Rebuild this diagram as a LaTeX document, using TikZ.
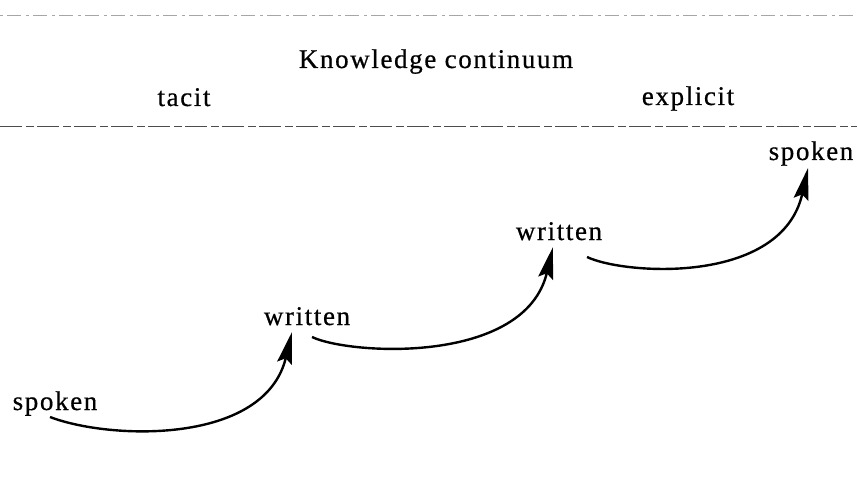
\documentclass[tikz,border=0pt]{standalone}
\usepackage{fontspec}
\setmainfont{Liberation Serif}
\usetikzlibrary{arrows.meta,calc}
\begin{document}
\begin{tikzpicture}[x=1pt,y=1pt,
  lbl/.style={inner sep=0pt,anchor=base,font=\fontsize{27}{32}\selectfont\addfontfeatures{LetterSpace=6,FakeBold=0.6}},
  arr/.style={line width=2.4pt,-{Stealth[length=32pt,width=15pt,inset=5pt]}},
  rule/.style={dash pattern=on 22pt off 4pt on 8pt off 3pt}]
\useasboundingbox (0,0) rectangle (857,-484);
\node[lbl] (title) at (436,-68) {Knowledge continuum};
\node[lbl] (tacit) at (184,-106) {tacit};
\node[lbl] (expl) at (688,-105) {explicit};
\coordinate (tl) at (0,-15);
\coordinate (tr) at (857,-15);
\coordinate (bl) at (0,-127);
\coordinate (br) at (857,-127);
\draw[black!35,line width=0.8pt,dash pattern=on 3pt off 4pt on 14pt off 5pt] (tl) -- (tr);
\draw[rule,black!70,line width=1pt] (bl) -- (br);
\node[lbl] (sp1) at (55,-410) {spoken};
\node[lbl] (wr1) at (307,-325) {written};
\node[lbl] (wr2) at (559,-240) {written};
\node[lbl] (sp2) at (811,-160) {spoken};
\draw[arr] ($(sp1.base)+(-5,-7)$) .. controls (110,-440) and (265,-445) .. ($(wr1.base)+(-15,-7)$);
\draw[arr] ($(wr1.base)+(5,-12)$) .. controls (350,-355) and (525,-365) .. ($(wr2.base)+(-6,-7)$);
\draw[arr] ($(wr2.base)+(28,-17)$) .. controls (625,-275) and (782,-285) .. ($(sp2.base)+(-3,-8)$);
\end{tikzpicture}
\end{document}
